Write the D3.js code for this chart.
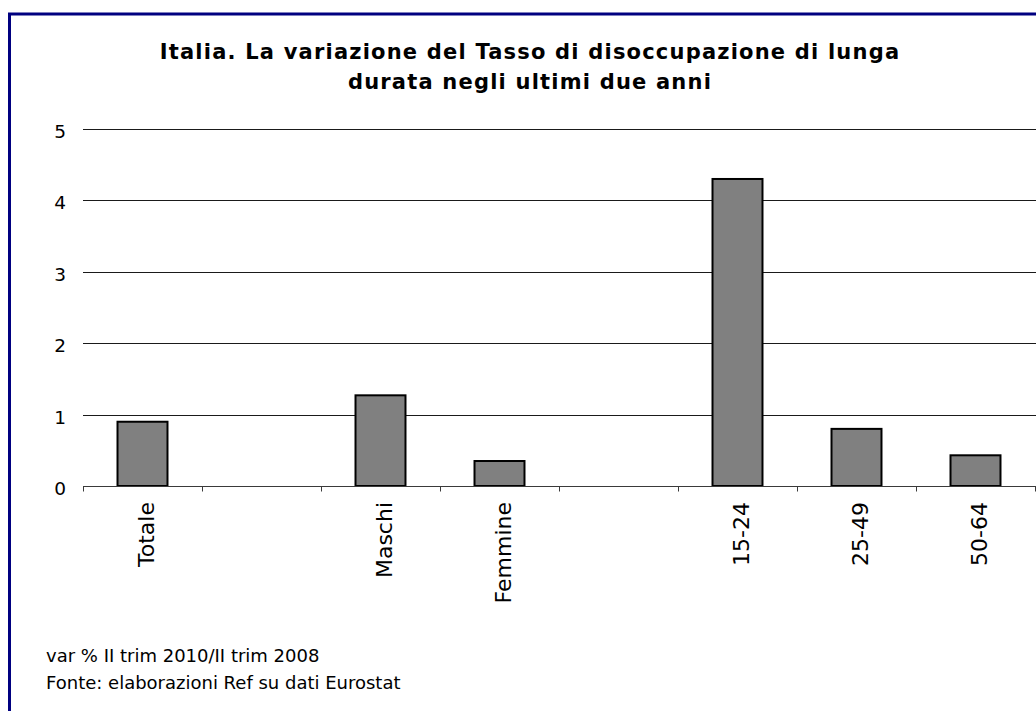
<!DOCTYPE html>
<html>
<head>
<meta charset="utf-8">
<script src="https://cdn.jsdelivr.net/npm/d3@7"></script>
<style>
    body { margin: 0; background: #fff; }
    text { font-family: "DejaVu Sans", Verdana, sans-serif; fill: #000; }
</style>
</head>
<body>
<div id="chart"></div>
<script>
(function () {
    'use strict';

    // categories (empty ones are spacer slots, as in the original sheet)
    let categories = ['Totale', '', 'Maschi', 'Femmine', '', '15-24', '25-49', '50-64'];
    let values = [0.9, null, 1.27, 0.35, null, 4.3, 0.8, 0.43];
    let yTicks = [0, 1, 2, 3, 4, 5];
    let titleLines = [
        'Italia. La variazione del Tasso di disoccupazione di lunga',
        'durata negli ultimi due anni'
    ];
    let notes = [
        'var % II trim 2010/II trim 2008',
        'Fonte: elaborazioni Ref su dati Eurostat'
    ];

    let width = 1036;
    let height = 711;
    let plot = { left: 83, right: 1035, top: 129, bottom: 486 };

    let svg = d3.select('#chart').append('svg')
        .attr('width', width)
        .attr('height', height);

    svg.append('rect')
        .attr('width', width)
        .attr('height', height)
        .attr('fill', '#fff');

    // frame, only left and top edges are inside the picture
    svg.append('rect')
        .attr('x', 9.5)
        .attr('y', 14)
        .attr('width', 1100)
        .attr('height', 800)
        .attr('fill', 'none')
        .attr('stroke', '#000080')
        .attr('stroke-width', 3);

    let xBand = d3.scaleBand()
        .domain(d3.range(categories.length))
        .range([plot.left, plot.right])
        .paddingInner(0)
        .paddingOuter(0);
    let xEdge = d3.scaleLinear()
        .domain([0, categories.length])
        .range([plot.left, plot.right]);
    let y = d3.scaleLinear()
        .domain([0, 5])
        .range([plot.bottom, plot.top]);

    // gridlines
    svg.append('g')
        .selectAll('line')
        .data(yTicks.filter(function (d) { return d > 0; }))
        .enter()
        .append('line')
        .attr('x1', plot.left)
        .attr('x2', width)
        .attr('y1', function (d) { return Math.round(y(d)) + 0.5; })
        .attr('y2', function (d) { return Math.round(y(d)) + 0.5; })
        .attr('stroke', '#1a1a1a')
        .attr('stroke-width', 1);

    // y labels
    svg.append('g')
        .selectAll('text')
        .data(yTicks)
        .enter()
        .append('text')
        .attr('x', 66)
        .attr('y', function (d) { return y(d) + 9; })
        .attr('text-anchor', 'end')
        .style('font-size', '18.5px')
        .text(function (d) { return d; });

    // bars
    let bw = xBand.bandwidth() * 0.42;
    svg.append('g')
        .selectAll('rect')
        .data(values.map(function (v, i) { return { i: i, v: v }; })
            .filter(function (d) { return d.v !== null; }))
        .enter()
        .append('rect')
        .attr('x', function (d) { return xBand(d.i) + (xBand.bandwidth() - bw) / 2; })
        .attr('y', function (d) { return y(d.v); })
        .attr('width', bw)
        .attr('height', function (d) { return y(0) - y(d.v); })
        .attr('fill', '#808080')
        .attr('stroke', '#000')
        .attr('stroke-width', 2);

    // x axis: ticks between categories
    let xAxis = d3.axisBottom(xEdge)
        .tickValues(d3.range(0, categories.length + 1))
        .tickSize(5)
        .tickSizeOuter(0)
        .tickFormat('');
    let gx = svg.append('g')
        .attr('transform', 'translate(0,' + (Math.round(y(0)) + 0.5) + ')')
        .call(xAxis);
    gx.select('.domain')
        .attr('d', 'M' + plot.left + ',0H' + width)
        .attr('stroke', '#3a3a3a');
    gx.selectAll('.tick line').attr('stroke', '#3a3a3a');

    // category labels
    svg.append('g')
        .selectAll('text')
        .data(categories.map(function (c, i) { return { c: c, i: i }; })
            .filter(function (d) { return d.c !== ''; }))
        .enter()
        .append('text')
        .attr('transform', function (d) {
            return 'translate(' + (xBand(d.i) + xBand.bandwidth() / 2) + ',502) rotate(-90)';
        })
        .attr('dy', '0.5em')
        .attr('text-anchor', 'end')
        .style('font-size', '22px')
        .text(function (d) { return d.c; });

    // title
    svg.append('g')
        .selectAll('text')
        .data(titleLines)
        .enter()
        .append('text')
        .attr('x', 530)
        .attr('y', function (d, i) { return 59 + i * 30; })
        .attr('text-anchor', 'middle')
        .style('font-size', '21px')
        .style('font-weight', 'bold')
        .style('letter-spacing', '1.2px')
        .text(function (d) { return d; });

    // notes
    svg.append('g')
        .selectAll('text')
        .data(notes)
        .enter()
        .append('text')
        .attr('x', 46)
        .attr('y', function (d, i) { return 662 + i * 27; })
        .style('font-size', '18px')
        .text(function (d) { return d; });
})();
</script>
</body>
</html>
